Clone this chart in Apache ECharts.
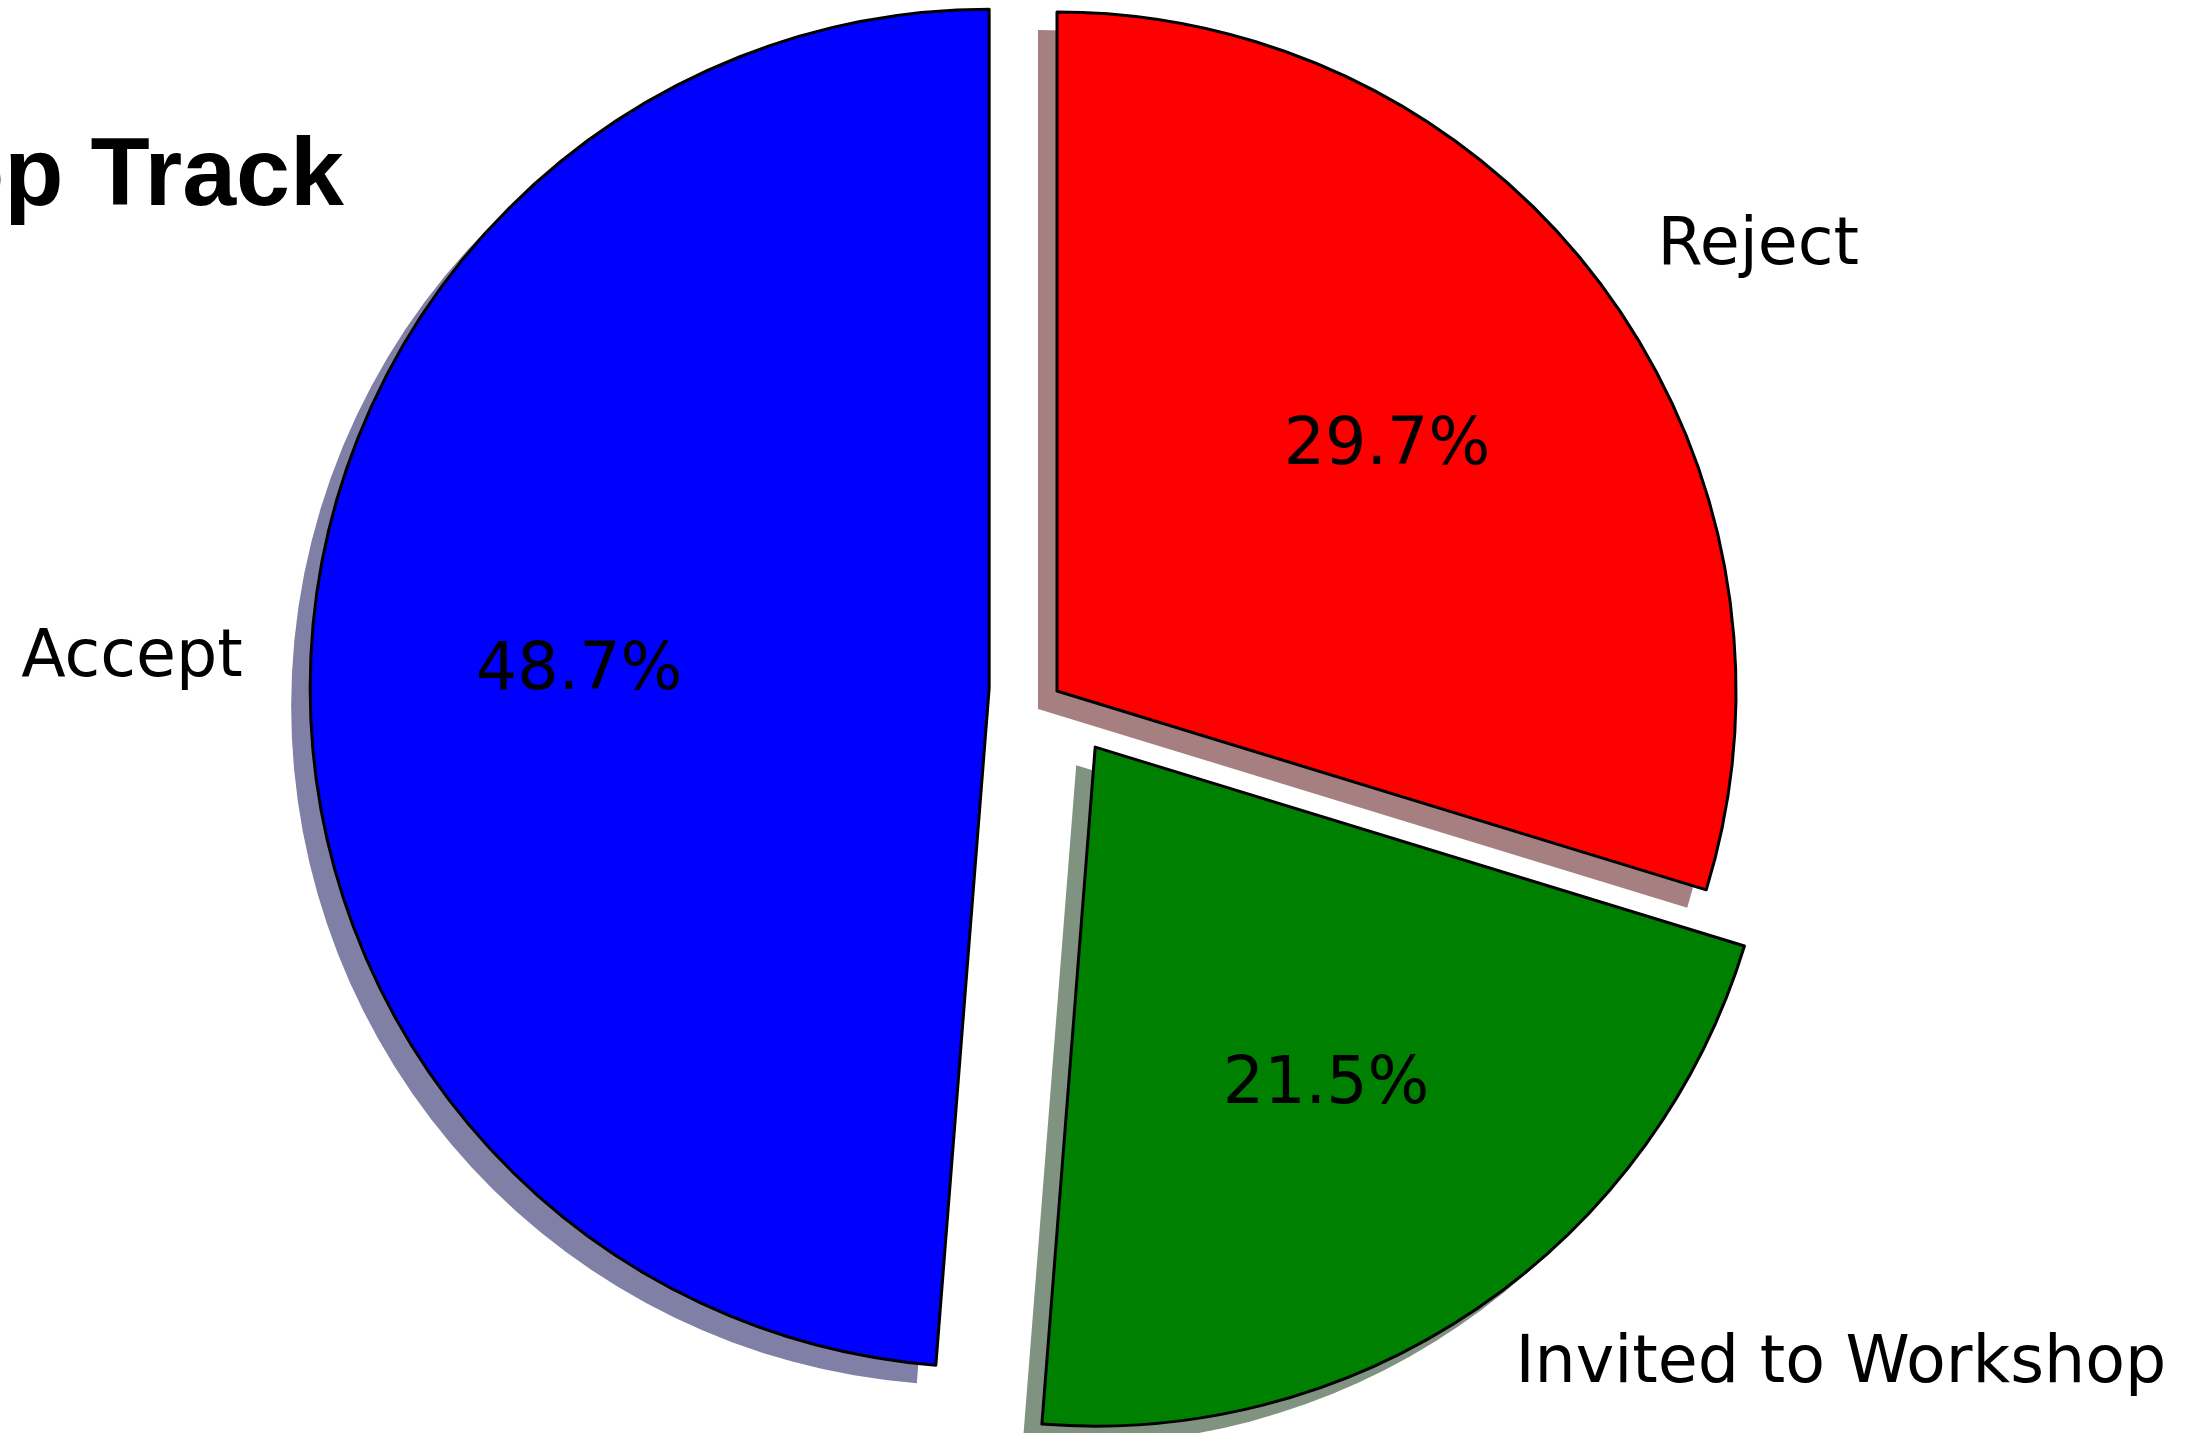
<!DOCTYPE html>
<html>
<head>
<meta charset="utf-8">
<script src="https://cdn.jsdelivr.net/npm/echarts@6/dist/echarts.min.js"></script>
<style>
  html, body { margin: 0; padding: 0; background: #ffffff; }
  #chart { width: 2204px; height: 1433px; }
</style>
</head>
<body>
<div id="chart"></div>
<script>
// Review outcome for the workshop track (share of submissions, %)
const titleText = 'Workshop Track';
const categories = ['Accept', 'Invited to Workshop', 'Reject'];
const shares = [48.7, 21.5, 29.7];
const exploded = [true, true, false];
const sliceColors = ['#0000ff', '#008000', '#ff0000'];
const shadowColors = ['#8080a6', '#809380', '#a68080'];

// geometry of the pie
const cx = 1057, cy = 691;
const R = 679;
const explodeDist = 0.1 * R;
const shadowDx = -19, shadowDy = 18;
const labelFont = 'DejaVu Sans';
const labelSize = 65;

const chart = echarts.init(document.getElementById('chart'), null, { renderer: 'canvas' });

const baseSeries = {
  type: 'pie',
  radius: R,
  startAngle: 90,
  clockwise: false,
  selectedMode: 'multiple',
  selectedOffset: explodeDist,
  avoidLabelOverlap: false,
  emphasis: { disabled: true },
  animation: false
};

const shadowSeries = Object.assign({}, baseSeries, {
  name: 'shadow',
  silent: true,
  z: 1,
  center: [cx + shadowDx, cy + shadowDy],
  label: { show: false },
  labelLine: { show: false },
  data: categories.map((c, i) => ({
    name: c, value: shares[i], selected: exploded[i],
    itemStyle: { color: shadowColors[i], borderWidth: 0 }
  }))
});

const mainSeries = Object.assign({}, baseSeries, {
  name: 'outcome',
  z: 2,
  center: [cx, cy],
  itemStyle: { borderColor: '#000000', borderWidth: 3 },
  label: {
    show: true,
    position: 'outside',
    alignTo: 'none',
    distanceToLabelLine: 0,
    overflow: 'none',
    color: '#000000',
    fontFamily: labelFont,
    fontSize: labelSize,
    formatter: '{b}'
  },
  labelLine: { show: false, length: explodeDist, length2: 0 },
  data: categories.map((c, i) => ({
    name: c, value: shares[i], selected: exploded[i],
    itemStyle: { color: sliceColors[i] }
  }))
});

// transparent ring carrying the percentage labels at 0.6 R
const pctSeries = Object.assign({}, baseSeries, {
  name: 'percent',
  silent: true,
  z: 3,
  center: [cx, cy],
  radius: [0.2 * R, R],
  itemStyle: { color: 'rgba(0,0,0,0)', borderWidth: 0 },
  label: {
    show: true,
    position: 'inside',
    color: '#000000',
    fontFamily: labelFont,
    fontSize: labelSize,
    formatter: p => p.value.toFixed(1) + '%'
  },
  labelLine: { show: false },
  data: categories.map((c, i) => ({
    name: c, value: shares[i], selected: exploded[i]
  }))
});

chart.setOption({
  backgroundColor: '#ffffff',
  animation: false,
  graphic: [{
    type: 'text',
    x: 344,
    y: 227,
    style: {
      text: titleText,
      fill: '#000000',
      font: 'bold 97px "Liberation Sans", Arial, sans-serif',
      textAlign: 'right',
      textVerticalAlign: 'bottom'
    }
  }],
  series: [shadowSeries, mainSeries, pctSeries]
});
</script>
</body>
</html>
